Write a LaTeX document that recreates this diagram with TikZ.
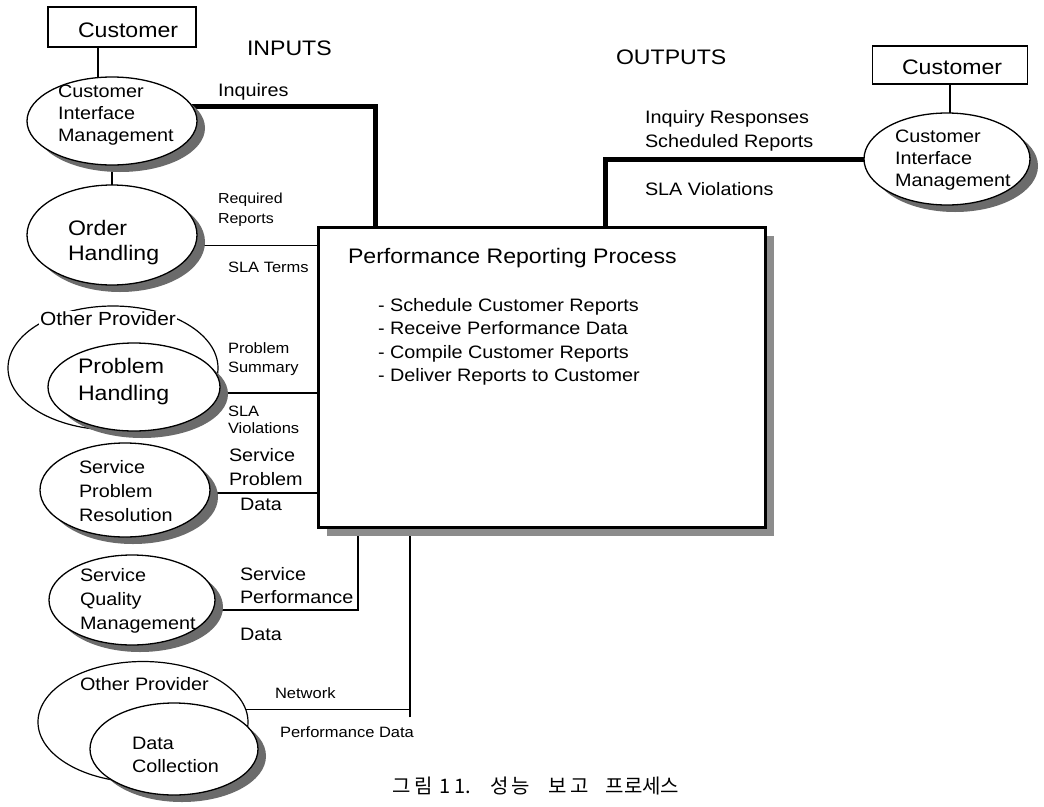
\documentclass[tikz,border=0pt]{standalone}
\usepackage{fontspec}
\setmainfont[FakeStretch=1.1]{Liberation Sans}
\newfontfamily\cjk{Noto Sans CJK KR}
\usetikzlibrary{shapes.geometric,shadows}
\pgfdeclarelayer{back}
\pgfsetlayers{back,main}
\newcommand\fsz[2]{\fontsize{#1}{#2}\selectfont}
\newcommand\ls{\hspace{3pt}}

\begin{document}
\begin{tikzpicture}[x=1pt,y=-1pt,
  every node/.style={inner sep=0pt, outer sep=0pt},
  proc/.style={ellipse, draw, line width=1.3pt, fill=white,
    drop shadow={shadow xshift=8pt, shadow yshift=-7pt, fill=black!58, opacity=1}},
  plain/.style={ellipse, draw, line width=1.2pt, fill=white},
  party/.style={rectangle, draw, line width=1.2pt, fill=white},
  txt/.style={anchor=north west, align=left},
  link/.style={line width=1.2pt},
  flow/.style={line width=5pt},
]
\path[use as bounding box] (0,0) rectangle (1044,806);

% customers
\node[party, minimum width=148pt, minimum height=40pt] (cust1) at (122,27) {};
\node[txt, font=\fsz{21}{25}] (cust1t) at (78,23) {Customer};
\node[party, minimum width=155pt, minimum height=38pt] (cust2) at (950,65) {};
\node[txt, font=\fsz{21}{25}] (cust2t) at (902,60) {Customer};

% left column of processes
\node[proc, minimum width=170pt, minimum height=88pt] (cim1) at (112,121) {};
\node[txt, font=\fsz{18}{22}] (cim1t) at (58,85) {Customer\\Interface\\Management};

\node[proc, minimum width=170pt, minimum height=100pt] (oh) at (112,235) {};
\node[txt, font=\fsz{21}{25}] (oht) at (68,220) {Order\\Handling};

\node[plain, minimum width=210pt, minimum height=124pt] (op1) at (113,368) {};
\node[proc, minimum width=172pt, minimum height=88pt] (ph) at (134,387) {};
\node[txt, font=\fsz{19}{23}, fill=white, inner sep=1pt] (op1t) at (39,311) {Other Provider};
\node[txt, font=\fsz{21}{27}] (pht) at (78,358) {Problem\\Handling};

\node[proc, minimum width=170pt, minimum height=94pt] (spr) at (125,490) {};
\node[txt, font=\fsz{18}{24}] (sprt) at (79,460) {Service\\Problem\\Resolution};

\node[proc, minimum width=166pt, minimum height=90pt] (sqm) at (132,600) {};
\node[txt, font=\fsz{18}{24}] (sqmt) at (80,568) {Service\\Quality\\Management};

\node[plain, minimum width=210pt, minimum height=121pt] (op2) at (143,722) {};
\node[txt, font=\fsz{18}{22}] (op2t) at (80,677) {Other Provider};
\node[proc, minimum width=168pt, minimum height=92pt] (dc) at (174,749) {};
\node[txt, font=\fsz{18}{23}] (dct) at (132,737) {Data\\Collection};

% right customer interface
\node[proc, minimum width=166pt, minimum height=92pt] (cim2) at (947,159) {};
\node[txt, font=\fsz{18}{22}] (cim2t) at (895,130) {Customer\\Interface\\Management};

% central process box
\node[rectangle, draw, line width=3pt, fill=white, minimum width=447pt, minimum height=300pt,
  drop shadow={shadow xshift=9pt, shadow yshift=-9pt, fill=black!45, opacity=1}] (prp) at (541.5,377) {};
\node[txt, font=\fsz{21}{25}] (prpt) at (348,248) {Performance Reporting Process};
\node[txt, font=\fsz{18}{23.5}] (prpl) at (378,298)
  {- Schedule Customer Reports\\- Receive Performance Data\\- Compile Customer Reports\\- Deliver Reports to Customer};

% headings and flow labels
\node[txt, font=\fsz{21}{25}] (hin) at (247,41) {INPUTS};
\node[txt, font=\fsz{21}{25}] (hout) at (616,50) {OUTPUTS};
\node[txt, font=\fsz{18}{22}] (l1) at (218,83) {Inquires};
\node[txt, font=\fsz{14.5}{20}] (l2) at (218,193) {Required\\Reports};
\node[txt, font=\fsz{15}{19}] (l3) at (228,262) {SLA Terms};
\node[txt, font=\fsz{15}{19}] (l4) at (228,343) {Problem\\Summary};
\node[txt, font=\fsz{15}{17}] (l5) at (228,406) {SLA\\Violations};
\node[txt, font=\fsz{18}{24}] (l6) at (229,448) {Service\\Problem};
\node[txt, font=\fsz{18}{24}] (l7) at (240,498) {Data};
\node[txt, font=\fsz{18}{23}] (l8) at (240,567) {Service\\Performance};
\node[txt, font=\fsz{18}{24}] (l9) at (240,628) {Data};
\node[txt, font=\fsz{15}{19}] (l10) at (275,688) {Network};
\node[txt, font=\fsz{15}{19}] (l11) at (280,727) {Performance Data};
\node[txt, font=\fsz{18}{24}] (r1) at (645,110) {Inquiry Responses\\Scheduled Reports};
\node[txt, font=\fsz{18}{24}] (r2) at (645,182) {SLA Violations};

% caption
\node[font={\cjk\fsz{20}{24}}] (cap) at (536,786)
  {그\ls 림\hspace{7pt}1\hspace{4pt}1.\hspace{19pt}성\ls 능\hspace{19pt}보\ls 고\hspace{17pt}프로세스};

% connectors, kept beneath shapes and shadows
\begin{pgfonlayer}{back}
\fill[white] (0,0) rectangle (1044,806);
\coordinate (c1) at ([xshift=-24pt]cust1.south);
\draw[link] (c1) -- (c1 |- cim1.center);
\draw[link] (cim1) -- (oh);
\draw[link] (cust2.south) -- (cust2.south |- cim2.center);

\coordinate (inq) at ([xshift=57pt]prp.north west);
\draw[flow] (cim1.10) -| (inq);
\coordinate (outq) at ([xshift=287pt]prp.north west);
\draw[flow] (outq) |- (cim2.west);

\draw[link] (oh.-7) -- (oh.-7 -| prp.west);
\draw[link] (ph.-4) -- (ph.-4 -| prp.west);
\draw[link] (spr.-2) -- (spr.-2 -| prp.west);
\coordinate (sqin) at ([xshift=40pt]prp.south west);
\draw[link] (sqm.-7) -| (sqin);
\coordinate (ncin) at ([xshift=92pt]prp.south west);
\coordinate (nend) at ([yshift=-8pt]ncin |- op2.7);
\draw[link] (op2.7) -- (op2.7 -| ncin);
\draw[link] (nend) -- (ncin);
\end{pgfonlayer}
\end{tikzpicture}
\end{document}
